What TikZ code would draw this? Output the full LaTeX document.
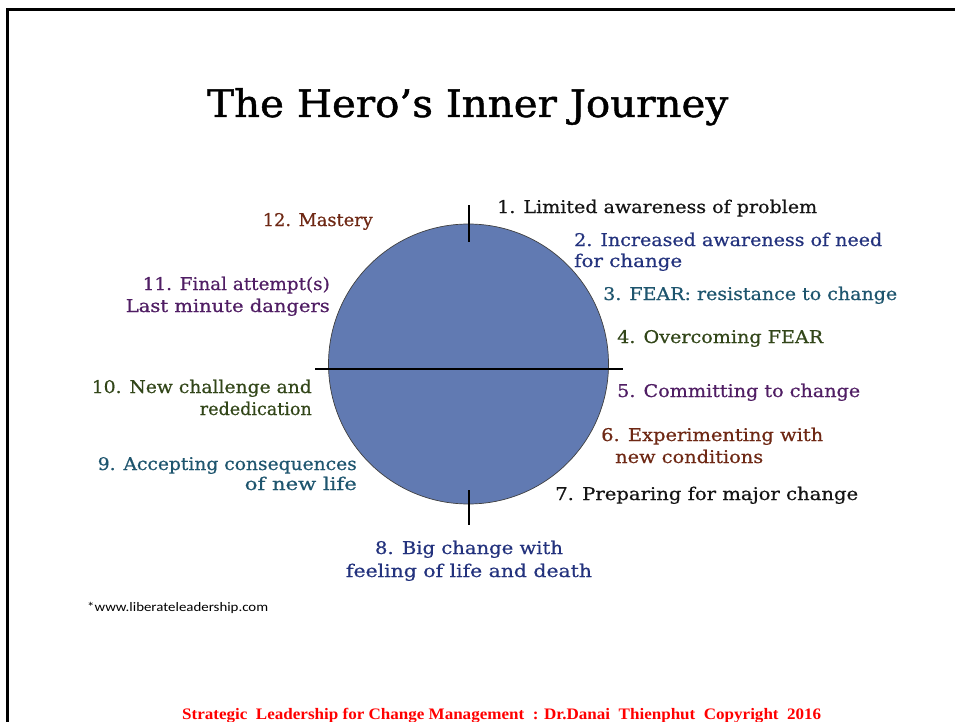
\documentclass[tikz,border=0pt]{standalone}
\usepackage{fontspec}
\usepackage{graphicx}
\setmainfont{DejaVu Serif}[FakeBold=0.6]
\newfontfamily\titlefont{DejaVu Serif}[FakeBold=1.2]
\newfontfamily\footfont{Liberation Serif}
\newfontfamily\urlfont{Carlito}
\definecolor{cfill}{RGB}{97,122,178}
\definecolor{cnavy}{RGB}{35,50,125}
\definecolor{cteal}{RGB}{30,85,110}
\definecolor{cgreen}{RGB}{50,70,25}
\definecolor{cpurple}{RGB}{80,30,100}
\definecolor{cbrown}{RGB}{110,40,20}
\definecolor{cblack}{RGB}{20,20,20}
\newcommand{\fw}[2]{\resizebox{#1pt}{\height}{#2}}
\tikzset{
  lbl/.style={inner sep=0pt, font=\fontsize{17.5}{20}\selectfont},
  lw/.style={lbl, anchor=base west},
  le/.style={lbl, anchor=base east},
  lc/.style={lbl, anchor=base},
  rule/.style={line width=2pt, black},
  tick/.style={line width=1.5pt, black}
}
\begin{document}
\begin{tikzpicture}[x=1pt,y=-1pt]
\useasboundingbox (0,0) rectangle (955,722);
% frame
\draw[line width=2.5pt] (7.5,722) -- (7.5,9.5) -- (955,9.5);
% title
\node[inner sep=0pt, anchor=base west, font=\titlefont\fontsize{38}{40}\selectfont] (title) at (207,117) {\fw{521}{The Hero’s Inner Journey}};
% circle
\node[circle, minimum size=280pt, inner sep=0pt, fill=cfill, draw=black!75, line width=0.7pt] (c) at (468.5,364) {};
\coordinate (hl) at (315,369);
\coordinate (hr) at (623,369);
\draw[rule] (hl) -- (hr);
\coordinate (tt) at (469,205);
\coordinate (tb) at (469,242);
\draw[tick] (tt) -- (tb);
\coordinate (bt) at (469,490);
\coordinate (bb) at (469,525);
\draw[tick] (bt) -- (bb);
% labels right
\node[lw, text=cblack] (l1) at (497,213) {\fw{320}{1. Limited awareness of problem}};
\node[lw, text=cnavy] (l2a) at (574,246) {\fw{308}{2. Increased awareness of need}};
\node[lw, text=cnavy] (l2b) at (574,267) {\fw{108}{for change}};
\node[lw, text=cteal] (l3) at (603,300) {\fw{294}{3. FEAR: resistance to change}};
\node[lw, text=cgreen] (l4) at (617,343) {\fw{206}{4. Overcoming FEAR}};
\node[lw, text=cpurple] (l5) at (617,397) {\fw{243}{5. Committing to change}};
\node[lw, text=cbrown] (l6a) at (601,441) {\fw{222}{6. Experimenting with}};
\node[lw, text=cbrown] (l6b) at (615,463) {\fw{148}{new conditions}};
\node[lw, text=cblack] (l7) at (555,500) {\fw{303}{7. Preparing for major change}};
% bottom
\node[lc, text=cnavy] (l8a) at (469,554) {\fw{188}{8. Big change with}};
\node[lc, text=cnavy] (l8b) at (469,577) {\fw{246}{feeling of life and death}};
% left
\node[le, text=cteal] (l9a) at (357,470) {\fw{259}{9. Accepting consequences}};
\node[le, text=cteal] (l9b) at (357,490) {\fw{112}{of new life}};
\node[le, text=cgreen] (l10a) at (312,393) {\fw{220}{10. New challenge and}};
\node[le, text=cgreen] (l10b) at (312,415) {\fw{112}{rededication}};
\node[le, text=cpurple] (l11a) at (330,290) {\fw{187}{11. Final attempt(s)}};
\node[le, text=cpurple] (l11b) at (330,312) {\fw{204}{Last minute dangers}};
\node[le, text=cbrown] (l12) at (373,226) {\fw{110}{12. Mastery}};
% source
\node[inner sep=0pt, anchor=base west, font=\urlfont\fontsize{13}{15}\selectfont] (src) at (87,611) {\fw{181}{*www.liberateleadership.com}};
% footer
\node[inner sep=0pt, anchor=base west, text=red, font=\footfont\bfseries\fontsize{16}{18}\selectfont] (foot) at (182,719) {\fw{639}{Strategic\ \ Leadership for Change Management\ \ : Dr.Danai\ \ Thienphut\ \ Copyright\ \ 2016}};
\end{tikzpicture}
\end{document}
